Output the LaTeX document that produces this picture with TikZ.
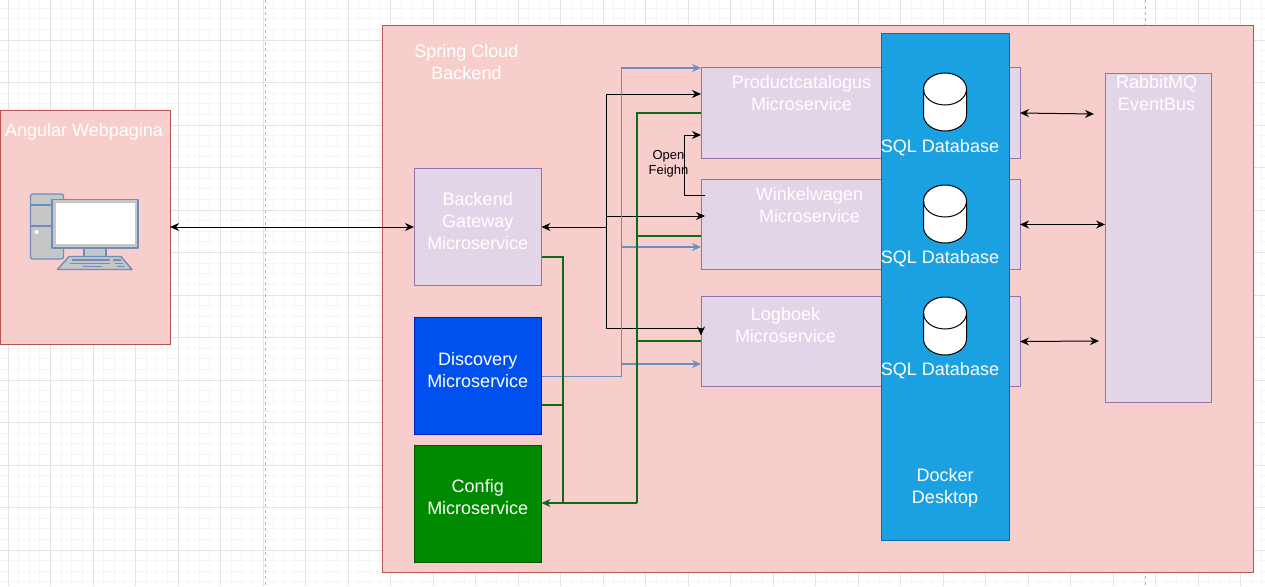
\documentclass[tikz,border=0pt]{standalone}
\usepackage{fontspec}
\setmainfont{Liberation Sans}
\usetikzlibrary{arrows.meta}
\definecolor{panelFill}{HTML}{F8CECC}
\definecolor{panelLine}{HTML}{B85450}
\definecolor{svcFill}{HTML}{E1D5E7}
\definecolor{svcLine}{HTML}{9673A6}
\definecolor{blueLine}{HTML}{6C8EBF}
\definecolor{darkGreen}{HTML}{005700}
\definecolor{wireGreen}{HTML}{0F6A18}
\definecolor{discFill}{HTML}{0050EF}
\definecolor{discLine}{HTML}{001DBC}
\definecolor{confFill}{HTML}{008A00}
\definecolor{dockerFill}{HTML}{1BA1E2}
\definecolor{dockerLine}{HTML}{006EAF}
\tikzset{
  panel/.style={rectangle, draw=panelLine, fill=panelFill, line width=1pt, inner sep=0pt, outer sep=0pt},
  svc/.style={rectangle, draw=svcLine, fill=svcFill, line width=1pt, inner sep=0pt, outer sep=0pt},
  discBox/.style={rectangle, draw=discLine, fill=discFill, line width=1pt, inner sep=0pt, outer sep=0pt},
  confBox/.style={rectangle, draw=darkGreen, fill=confFill, line width=1pt, inner sep=0pt, outer sep=0pt},
  dockerBox/.style={rectangle, draw=dockerLine, fill=dockerFill, line width=1pt, inner sep=0pt, outer sep=0pt},
  lbl/.style={text=white, align=center, inner sep=0pt, font=\fontsize{18}{22}\selectfont},
  dbase/.style={draw=black, fill=white, line width=1pt},
  arrowBlack/.style={line width=1pt, black},
  arrowBlue/.style={line width=1.2pt, blueLine},
  arrowGreen/.style={line width=1.1pt, wireGreen},
  iconLine/.style={draw=blueLine, line width=1.4pt, fill=gray!45!white, line join=round}
}

\begin{document}
\begin{tikzpicture}[>={Stealth[length=9pt,width=8pt]}, x=1pt, y=-1pt]
\useasboundingbox (0,0) rectangle (1265,586);

% Grid
\foreach \i in {0,...,119} {
  \draw[black!4, line width=0.8pt] (\i*10.625-2.625,0) -- (\i*10.625-2.625,586);
}
\foreach \i in {0,...,55} {
  \draw[black!4, line width=0.8pt] (0,\i*10.625-2.5) -- (1265,\i*10.625-2.5);
}
\foreach \i in {0,...,29} {
  \draw[black!11, line width=0.8pt] (\i*42.5+8,0) -- (\i*42.5+8,586);
}
\foreach \i in {0,...,13} {
  \draw[black!11, line width=0.8pt] (0,\i*42.5-2.5) -- (1265,\i*42.5-2.5);
}
\foreach \x in {265,1145} {
  \draw[black!28, dashed, line width=0.8pt] (\x,0) -- (\x,586);
}

% Panels
\node[panel, minimum width=170pt, minimum height=234pt] (web) at (85,227) {};
\node[panel, minimum width=871pt, minimum height=547pt] (cloud) at (817.5,298.8) {};
\node[lbl] (webText) at (84,132) {Angular Webpagina};
\node[lbl] (cloudText) at (466.5,62) {Spring Cloud\\Backend};

% Computer icon
\draw[iconLine, rounded corners=1.5pt] (30.5,194) rectangle (63.5,259);
\draw[iconLine] (30.5,205) -- (52,205) (30.5,226) -- (52,226);
\fill[white] (36.5,232) circle (2pt);
\draw[iconLine] (84,248) rectangle (106,257);
\draw[iconLine] (57.5,269.5) -- (69,256.5) -- (121,256.5) -- (132,269.5) -- cycle;
\draw[iconLine] (52,199.5) rectangle (138,248);
\fill[white] (55.5,203) rectangle (134.5,243.5);
\draw[blueLine, line width=1.5pt] (72,260) -- (110,260) (113,260) -- (121,260)
  (70,263.3) -- (110,263.3) (115,263.3) -- (123,263.3)
  (83,266.3) -- (102,266.3) (117,266.3) -- (125,266.3);

% Services
\node[svc, minimum width=127.5pt, minimum height=117.5pt] (gateway) at (477.75,227) {};
\node[lbl] (gatewayText) at (477.75,221.5) {Backend\\Gateway\\Microservice};
\node[discBox, minimum width=127.5pt, minimum height=117pt] (discovery) at (477.75,375.8) {};
\node[lbl] (discoveryText) at (477.75,370) {Discovery\\Microservice};
\node[confBox, minimum width=127.5pt, minimum height=117pt] (config) at (477.75,503.5) {};
\node[lbl] (configText) at (477.75,497.5) {Config\\Microservice};
\node[svc, minimum width=319pt, minimum height=91pt] (prod) at (860.5,113) {};
\node[svc, minimum width=319pt, minimum height=90pt] (win) at (860.5,224.5) {};
\node[svc, minimum width=319pt, minimum height=90.7pt] (log) at (860.5,341.5) {};
\node[svc, minimum width=106.5pt, minimum height=329.3pt] (bus) at (1158.3,237.7) {};
\node[lbl] (busText) at (1156.5,93) {RabbitMQ\\EventBus};

% Docker with databases
\node[dockerBox, minimum width=128pt, minimum height=507pt] (docker) at (945,286.9) {};
\node[lbl] (prodText) at (801.5,93) {Productcatalogus\\Microservice};
\node[lbl] (winText) at (809.5,205) {Winkelwagen\\Microservice};
\node[lbl] (logText) at (785.5,325) {Logboek\\Microservice};
\node[lbl] (dockerText) at (945,487.5) {Docker\\Desktop};
\foreach \n/\cy/\ty in {A/102/148,B/214/259,C/326/371} {
  \draw[dbase] (923.5,\cy-13) -- (923.5,\cy+13)
    arc[start angle=180, end angle=360, x radius=21.5pt, y radius=16pt]
    -- (966.5,\cy-13)
    arc[start angle=0, end angle=180, x radius=21.5pt, y radius=16pt] -- cycle;
  \draw[dbase, fill=none] (923.5,\cy-13)
    arc[start angle=180, end angle=360, x radius=21.5pt, y radius=16pt];
  \node[lbl] (db\n Text) at (940,\ty) {SQL Database};
}

% Free ends and junctions
\coordinate (busProd) at (1094,114);
\coordinate (busLog) at (1099,341);
\coordinate (gwJoin) at (606,227);
\coordinate (discJoin) at (621.5,376.5);
\coordinate (confJoin) at (637,503);
\coordinate (confRise) at (563,503);
\coordinate (feignBend) at (684,195);

% Browser and gateway
\draw[<->, arrowBlack] (web.east) -- (gateway.west);
\draw[<-, arrowBlack] (gateway.east) -- (gwJoin);

% Gateway to services
\draw[->, arrowBlack] (gwJoin) |- ([yshift=19pt]prod.west);
\draw[->, arrowBlack] (gwJoin) |- ([xshift=4pt,yshift=8.5pt]win.west);
\draw[arrowBlack] (gwJoin) |- ([yshift=13.5pt]log.west);
\draw[->, arrowBlack] ([yshift=13.5pt]log.west) -- ([yshift=6pt]log.west);

% Discovery registrations
\draw[arrowBlue] (discovery.east |- discJoin) -- (discJoin);
\foreach \svc/\dy in {prod/45,win/-22.5,log/-22.5} {
  \draw[->, arrowBlue] (discJoin) |- ([yshift=\dy pt]\svc.west);
}

% Config lines
\draw[arrowGreen] (gateway.east |- 0,257) -| (confRise);
\draw[arrowGreen] (discovery.east |- 0,405) -| (confRise);
\draw[->, arrowGreen] (confJoin) -- (config.east |- confJoin);
\foreach \svc/\dy in {prod/0,win/-11.5,log/0.5} {
  \draw[arrowGreen] ([yshift=\dy pt]\svc.west) -| (confJoin);
}

% Open Feign
\draw[->, arrowBlack] ([xshift=4pt,yshift=29.5pt]win.west) -- (feignBend) |- ([yshift=-22pt]prod.west);
\node[inner sep=0pt, align=center, font=\fontsize{13}{15}\selectfont] (feignText) at (668.5,163.5) {Open\\Feighn};

% Event bus
\draw[<->, arrowBlack] (prod.east) -- (busProd);
\draw[<->, arrowBlack] (win.east) -- (bus.west |- win.east);
\draw[<->, arrowBlack] (log.east) -- (busLog);

\end{tikzpicture}
\end{document}
